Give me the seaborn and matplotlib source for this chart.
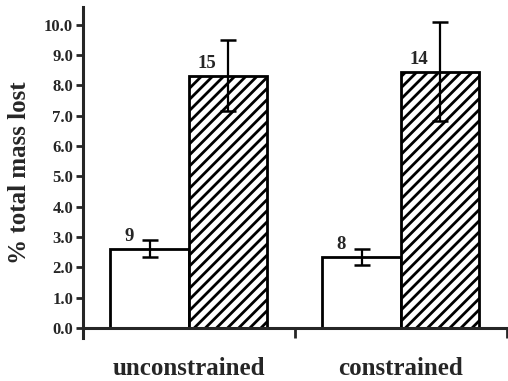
import matplotlib
matplotlib.use("Agg")
import matplotlib.pyplot as plt
import pandas as pd
import seaborn as sns

# data
groups = ["unconstrained", "constrained"]
treatments = ["open", "hatched"]
means_open = [2.62, 2.34]
means_hatched = [8.32, 8.45]
err_open = [0.27, 0.28]
err_hatched = [1.17, 1.63]
n_open = [9, 8]
n_hatched = [15, 14]
yticks = [0, 1, 2, 3, 4, 5, 6, 7, 8, 9, 10]

df = pd.DataFrame({
    "group": groups * 2,
    "treatment": [treatments[0]] * 2 + [treatments[1]] * 2,
    "value": means_open + means_hatched,
})

sns.set_style("ticks")
plt.rcParams["font.family"] = ["Liberation Serif", "DejaVu Serif"]
plt.rcParams["font.weight"] = "bold"
plt.rcParams["hatch.linewidth"] = 2.0

fig = plt.figure(figsize=(5.08, 3.81), dpi=100)
ax = fig.add_axes([0.163, 0.113, 0.835, 0.869])

sns.barplot(data=df, x="group", y="value", hue="treatment", order=groups,
            hue_order=treatments, palette={"open": "white", "hatched": "white"},
            edgecolor="black", linewidth=2, width=0.74, errorbar=None,
            legend=False, ax=ax)

bar_sets = list(ax.containers)
for bar in bar_sets[1]:
    bar.set_hatch("///")

all_means = [means_open, means_hatched]
all_errs = [err_open, err_hatched]
all_n = [n_open, n_hatched]
for k, cont in enumerate(bar_sets):
    for i, bar in enumerate(cont):
        xc = bar.get_x() + bar.get_width() / 2
        ax.errorbar(xc, all_means[k][i], yerr=all_errs[k][i], fmt="none",
                    ecolor="black", elinewidth=1.6, capsize=5.5, capthick=1.8,
                    zorder=5)
        ax.annotate(str(all_n[k][i]), (xc, all_means[k][i]),
                    xytext=(-15, 5.5), textcoords="offset points",
                    ha="center", va="baseline", fontsize=13.5, fontweight="bold")

ax.set_xlim(-0.5, 1.5)
ax.set_ylim(-0.33, 10.59)
ax.set_yticks(yticks)
ax.set_yticklabels([f"{v:.1f}" for v in yticks], fontsize=12, fontweight="bold")
ax.set_ylabel("% total mass lost", fontsize=18, fontweight="bold", labelpad=9)
ax.set_xlabel("")

sns.despine(ax=ax)
ax.spines["left"].set_linewidth(2.2)
ax.spines["bottom"].set_linewidth(2.2)
ax.spines["bottom"].set_position(("data", 0))
ax.tick_params(axis="y", direction="out", length=5, width=2, pad=2)
ax.set_xticks([0, 1])
ax.set_xticklabels(groups, fontsize=18, fontweight="bold")
ax.set_xticks([0.5, 1.5], minor=True)
ax.tick_params(axis="x", which="major", length=0, pad=21)
ax.tick_params(axis="x", which="minor", direction="out", length=7, width=2)

fig.savefig("out.png", dpi=100)
